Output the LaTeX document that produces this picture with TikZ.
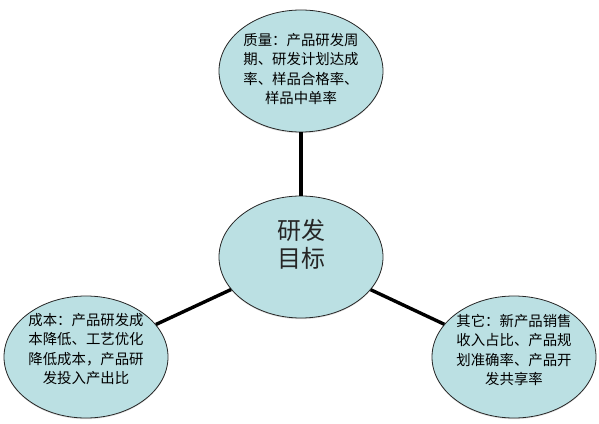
\documentclass[tikz,border=0pt]{standalone}
\usepackage{fontspec}
\newfontfamily\cjk{Noto Sans CJK SC}
\usetikzlibrary{shapes.geometric,shadows}
\definecolor{bubble}{RGB}{187,224,227}
\tikzset{
  bub/.style={ellipse, draw=black!85, line width=0.8pt, fill=bubble,
    minimum width=164pt, minimum height=122pt, inner sep=0pt,
    drop shadow={opacity=0.25, shadow xshift=0pt, shadow yshift=-1.2pt}},
  txt/.style={align=center, font=\cjk\fontsize{14.4}{19.5}\selectfont, inner sep=0pt},
  bigtxt/.style={align=center, font=\cjk\fontsize{24}{28}\selectfont, inner sep=0pt, text=black!85},
  link/.style={line width=3.4pt, black}
}
\begin{document}
\begin{tikzpicture}[x=1pt,y=1pt]
\useasboundingbox (0,0) rectangle (599,423);
\node[bub] (c) at (301,166) {};
\node[bub] (q) at (301,352) {};
\node[bub] (l) at (86,66) {};
\node[bub] (r) at (514,66) {};
\draw[link] (c) -- (q);
\draw[link] (c) -- (l);
\draw[link] (c) -- (r);
\node[bigtxt] (ct) at (301,179) {研发\\目标};
\node[txt] (qt) at (301,354) {质量：产品研发周\\期、研发计划达成\\率、样品合格率、\\样品中单率};
\node[txt] (lt) at (86,74) {成本：产品研发成\\本降低、工艺优化\\降低成本，产品研\\发投入产出比};
\node[txt] (rt) at (514,73) {其它：新产品销售\\收入占比、产品规\\划准确率、产品开\\发共享率};
\end{tikzpicture}
\end{document}
